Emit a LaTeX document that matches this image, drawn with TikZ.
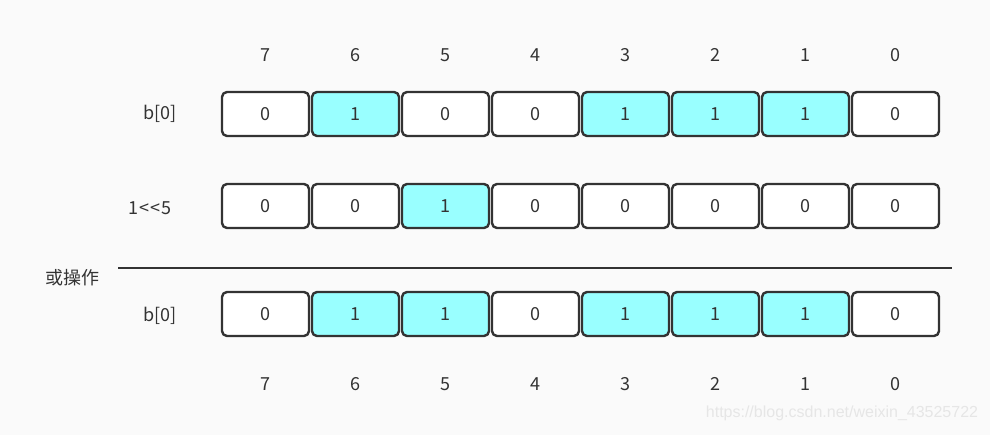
\documentclass[tikz,border=0pt]{standalone}
\usepackage{fontspec}
\setmainfont{Noto Sans CJK SC}
\newfontfamily\urlfont{Liberation Sans}
\usetikzlibrary{positioning}

\definecolor{edgegray}{HTML}{333333}
\definecolor{hicyan}{HTML}{99FFFF}
\definecolor{paper}{HTML}{FAFAFA}
\definecolor{marktext}{HTML}{E6E6E6}

\begin{document}
\begin{tikzpicture}[
  x = 1pt,
  y = -1pt,
  line join=round,
  cell/.style   = {draw=edgegray, line width=2.4pt, rounded corners=5pt, fill=white,
                   minimum width=87pt, minimum height=44pt, inner sep=0pt,
                   text=edgegray, font=\fontsize{18}{20}\selectfont},
  oncell/.style = {cell, fill=hicyan},
  bitno/.style  = {text=edgegray, font=\fontsize{18}{20}\selectfont},
  rowname/.style= {text=edgegray, font=\fontsize{18}{20}\selectfont}
]
  \def\X{265.5} \def\P{90}

  % 背景
  \fill[paper] (0,0) rectangle (990,435);
  \useasboundingbox (0,0) rectangle (990,435);

  % 位号
  \foreach \i in {0,...,7} {
    \pgfmathtruncatemacro{\bit}{7-\i}
    \node[bitno] (top\i) at (\X+\P*\i, 55)  {\bit};
    \node[bitno] (bot\i) at (\X+\P*\i, 384) {\bit};
  }

  % 第一行 b[0]
  \foreach \v [count=\i from 0] in {0,1,0,0,1,1,1,0} {
    \ifnum\v=1 \def\st{oncell}\else\def\st{cell}\fi
    \node[\st] (a\i) at (\X+\P*\i, 114) {\v};
  }
  % 第二行 1<<5
  \foreach \v [count=\i from 0] in {0,0,1,0,0,0,0,0} {
    \ifnum\v=1 \def\st{oncell}\else\def\st{cell}\fi
    \node[\st] (m\i) at (\X+\P*\i, 206) {\v};
  }
  % 结果
  \foreach \v [count=\i from 0] in {0,1,1,0,1,1,1,0} {
    \ifnum\v=1 \def\st{oncell}\else\def\st{cell}\fi
    \node[\st] (r\i) at (\X+\P*\i, 314) {\v};
  }

  % 行名
  \node[rowname] (nameA) at (160,114) {b[0]};
  \node[rowname] (nameM) at (150,208) {1\kern1pt{<}\kern1pt{<}\kern1pt5};
  \node[rowname] (nameR) at (160,316) {b[0]};
  \node[rowname] (opname) at (72,278) {或操作};

  % 分隔线
  \coordinate (ruleL) at (118,268);
  \coordinate (ruleR) at (952,268);
  \draw[edgegray, line width=2.4pt] (ruleL) -- (ruleR);

  % 水印
  \node[text=marktext, font=\urlfont\fontsize{16}{18}\selectfont] (mark) at (842,413)
    {https://blog.csdn.net/weixin\_43525722};
\end{tikzpicture}
\end{document}
